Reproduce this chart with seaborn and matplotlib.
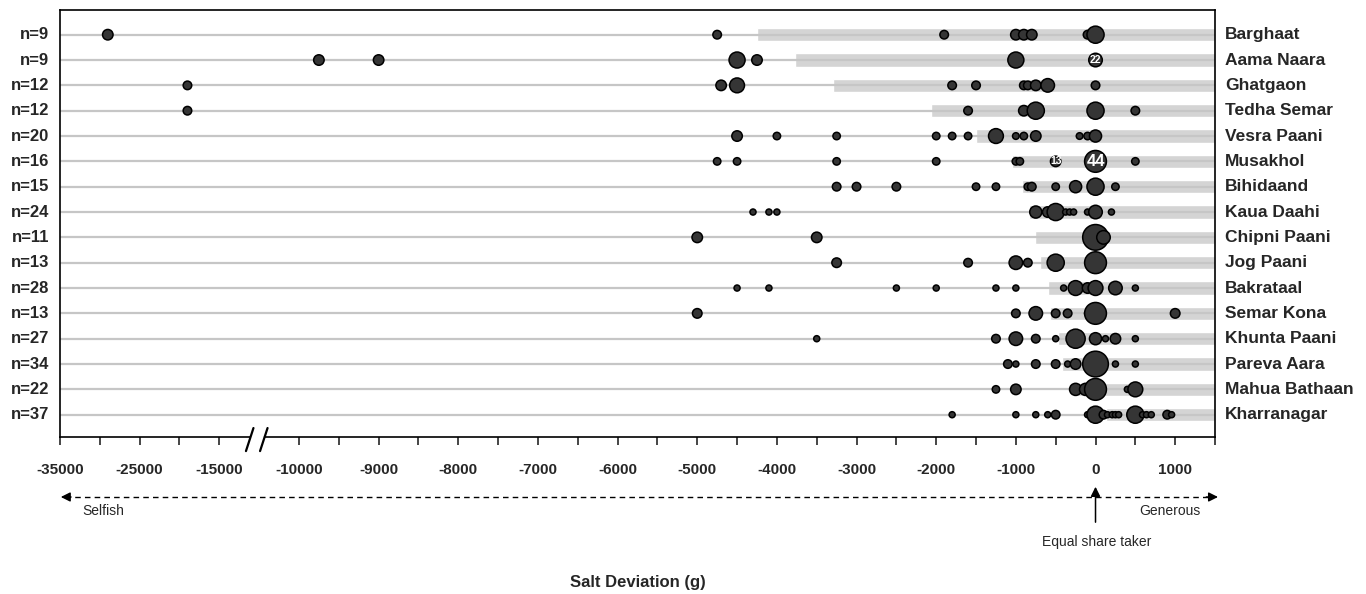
import numpy as np
import pandas as pd
import matplotlib.pyplot as plt
import seaborn as sns

sns.set_style('white')
plt.rcParams['font.family'] = ['Liberation Sans', 'DejaVu Sans']

# Villages, top to bottom
villages = ['Barghaat', 'Aama Naara', 'Ghatgaon', 'Tedha Semar', 'Vesra Paani',
            'Musakhol', 'Bihidaand', 'Kaua Daahi', 'Chipni Paani', 'Jog Paani',
            'Bakrataal', 'Semar Kona', 'Khunta Paani', 'Pareva Aara',
            'Mahua Bathaan', 'Kharranagar']
n_players = [9, 9, 12, 12, 20, 16, 15, 24, 11, 13, 28, 13, 27, 34, 22, 37]

# start of the grey band (runs to the right edge)
band_start = [-4250, -3775, -3300, -2060, -1500, -1050, -920, -830, -765, -700,
              -600, -570, -465, -415, -265, 130]

# salt deviations (g) and how many players gave each value
dev_barghaat = [-29000, -4750, -1900, -1000, -900, -800, -100, 0]
cnt_barghaat = [3, 2, 2, 3, 3, 3, 2, 8]
dev_aama = [-9750, -9000, -4500, -4250, -1000, 0]
cnt_aama = [3, 3, 7, 3, 7, 5]
dev_ghatgaon = [-19000, -4700, -4500, -1800, -1500, -900, -850, -750, -600, 0]
cnt_ghatgaon = [2, 3, 6, 2, 2, 2, 2, 3, 5, 2]
dev_tedha = [-19000, -1600, -900, -750, 0, 500]
cnt_tedha = [2, 2, 3, 8, 8, 2]
dev_vesra = [-4500, -4000, -3250, -2000, -1800, -1600, -1250, -1000, -900, -750, -200, -100, 0]
cnt_vesra = [3, 1.5, 1.5, 1.5, 1.5, 1.5, 6, 1.2, 1.5, 3, 1.2, 1.5, 4]
dev_musakhol = [-4750, -4500, -3250, -2000, -1000, -950, -500, 0, 500]
cnt_musakhol = [1.5, 1.5, 1.5, 1.5, 1.5, 1.5, 3, 13, 1.5]
dev_bihidaand = [-3250, -3000, -2500, -1500, -1250, -850, -800, -500, -250, 0, 250]
cnt_bihidaand = [2, 2, 2, 1.5, 1.5, 1.5, 2, 1.5, 4, 8, 1.5]
dev_kaua = [-4300, -4100, -4000, -750, -600, -500, -375, -325, -275, -100, 0, 200]
cnt_kaua = [1, 1, 1, 4, 3, 8, 1, 1, 1, 1, 5, 1]
dev_chipni = [-5000, -3500, 0, 100]
cnt_chipni = [3, 3, 18, 5]
dev_jog = [-3250, -1600, -1000, -850, -500, 0]
cnt_jog = [2.5, 2, 5, 2, 8, 13]
dev_bakrataal = [-4500, -4100, -2500, -2000, -1250, -1000, -400, -250, -100, 0, 250, 500]
cnt_bakrataal = [1, 1, 1, 1, 1, 1, 1, 6, 3, 6, 5, 1]
dev_semar = [-5000, -1000, -750, -500, -350, -100, 0, 1000]
cnt_semar = [2.5, 2, 5, 2, 2, 1, 13, 2.5]
dev_khunta = [-3500, -1250, -1000, -750, -500, -250, 0, 125, 250, 500]
cnt_khunta = [1, 2, 5, 2, 1, 10, 4, 1, 3, 1]
dev_pareva = [-1100, -1000, -750, -500, -350, -250, 0, 250, 500]
cnt_pareva = [2, 1, 2, 2, 1, 3, 18, 1, 1]
dev_mahua = [-1250, -1000, -250, -125, 0, 400, 500]
cnt_mahua = [1.5, 3, 4, 4, 13, 1, 6]
dev_kharra = [-1800, -1000, -750, -600, -500, -100, 0, 100, 150, 210, 250, 290,
              500, 590, 640, 700, 900, 955]
cnt_kharra = [1, 1, 1, 1, 2, 1, 8, 2, 1, 1, 1, 1, 8, 1, 1, 1, 2, 1]

# numbers printed inside some circles
label_village = ['Aama Naara', 'Musakhol', 'Musakhol']
label_value = [0, -500, 0]
label_text = ['22', '13', '44']
label_size = [7.5, 7.5, 12]

devs = [dev_barghaat, dev_aama, dev_ghatgaon, dev_tedha, dev_vesra, dev_musakhol,
        dev_bihidaand, dev_kaua, dev_chipni, dev_jog, dev_bakrataal, dev_semar,
        dev_khunta, dev_pareva, dev_mahua, dev_kharra]
cnts = [cnt_barghaat, cnt_aama, cnt_ghatgaon, cnt_tedha, cnt_vesra, cnt_musakhol,
        cnt_bihidaand, cnt_kaua, cnt_chipni, cnt_jog, cnt_bakrataal, cnt_semar,
        cnt_khunta, cnt_pareva, cnt_mahua, cnt_kharra]

df = pd.concat([pd.DataFrame({'deviation': d, 'count': c, 'row': i})
                for i, (d, c) in enumerate(zip(devs, cnts))], ignore_index=True)


# broken axis: below -10000 the scale is compressed
def fwd(x):
    x = np.asarray(x, dtype=float)
    return np.where(x >= -10000, x,
                    np.where(x >= -15000, -10000 + (x + 10000) / 5,
                             -11000 + (x + 15000) / 10))


def inv(p):
    p = np.asarray(p, dtype=float)
    return np.where(p >= -10000, p,
                    np.where(p >= -11000, -10000 + (p + 10000) * 5,
                             -15000 + (p + 11000) * 10))


fig = plt.figure(figsize=(13.66, 5.94), dpi=100)
ax = fig.add_axes([60 / 1366, 1 - 437 / 594, 1155 / 1366, 427 / 594])
ax.set_xscale('function', functions=(fwd, inv))

rows = np.arange(len(villages))
for i in rows:
    ax.axhline(i, color='#c6c6c6', lw=1.6, zorder=2)
ax.barh(rows, [1500 - s for s in band_start], left=band_start, height=0.53,
        color='#d4d4d4', zorder=1)

sns.scatterplot(data=df, x='deviation', y='row', size='count',
                sizes=(19, 19 * 18), size_norm=(1, 18), color='#353535',
                edgecolor='black', linewidth=1.1, alpha=1, legend=False,
                ax=ax, zorder=3)

for v, val, txt, fs in zip(label_village, label_value, label_text, label_size):
    ax.text(val, villages.index(v), txt, ha='center', va='center', color='white',
            fontsize=fs, fontweight='bold', zorder=5)

ax.set_xlim(-35000, 1500)
ax.set_ylim(15.88, -0.975)
ax.set_yticks([])
ax.set_ylabel('')
ax.set_xlabel('')

tick_vals = [-35000, -30000, -25000, -20000, -15000] + list(range(-10000, 1501, 500))
shown = {-35000, -25000, -15000} | set(range(-10000, 1001, 1000))
ax.set_xticks(tick_vals)
ax.set_xticklabels([str(t) if t in shown else '' for t in tick_vals])
ax.tick_params(axis='x', direction='out', length=6, width=1.2, pad=13,
               labelsize=11, bottom=True)
for lbl in ax.get_xticklabels():
    lbl.set_fontweight('bold')

for sp in ax.spines.values():
    sp.set_color('black')
    sp.set_linewidth(1.2)

# row labels
ytr = ax.get_yaxis_transform()
for i, (name, n) in enumerate(zip(villages, n_players)):
    ax.text(1.0087, i, name, transform=ytr, ha='left', va='center',
            fontsize=12.5, fontweight='bold')
    ax.text(-0.0095, i, f'n={n}', transform=ytr, ha='right', va='center',
            fontsize=12, fontweight='bold')

# axis break marks
ax.plot([0.1665, 0.1745], [0, 0], transform=ax.transAxes, color='white',
        lw=3, clip_on=False, zorder=6)
for x0 in (0.1610, 0.1732):
    ax.plot([x0, x0 + 0.0065], [-0.033, 0.021], transform=ax.transAxes,
            color='black', lw=1.6, clip_on=False, zorder=7)

# selfish / generous arrow
ya = -0.1405
ax.plot([0.004, 0.998], [ya, ya], transform=ax.transAxes, color='black',
        lw=1, ls=(0, (4, 3)), clip_on=False)
ax.annotate('', xy=(-0.0017, ya), xytext=(0.012, ya), xycoords='axes fraction',
            arrowprops=dict(arrowstyle='-|>', color='black', lw=1, mutation_scale=14))
ax.annotate('', xy=(1.005, ya), xytext=(0.99, ya), xycoords='axes fraction',
            arrowprops=dict(arrowstyle='-|>', color='black', lw=1, mutation_scale=14))
ax.annotate('', xy=(0, -0.110), xytext=(0, -0.206),
            xycoords=('data', 'axes fraction'), annotation_clip=False,
            arrowprops=dict(arrowstyle='-|>', color='black', lw=1.1, mutation_scale=14))

fig.text(82 / 1366, 1 - 511 / 594, 'Selfish', ha='left', va='center', fontsize=10)
fig.text(1200 / 1366, 1 - 511 / 594, 'Generous', ha='right', va='center', fontsize=10)
fig.text(1097 / 1366, 1 - 542 / 594, 'Equal share taker', ha='center', va='center',
         fontsize=10)
fig.text(637.5 / 1366, 1 - 583 / 594, 'Salt Deviation (g)', ha='center', va='center',
         fontsize=12, fontweight='bold')

fig.savefig('out.png', dpi=100)
